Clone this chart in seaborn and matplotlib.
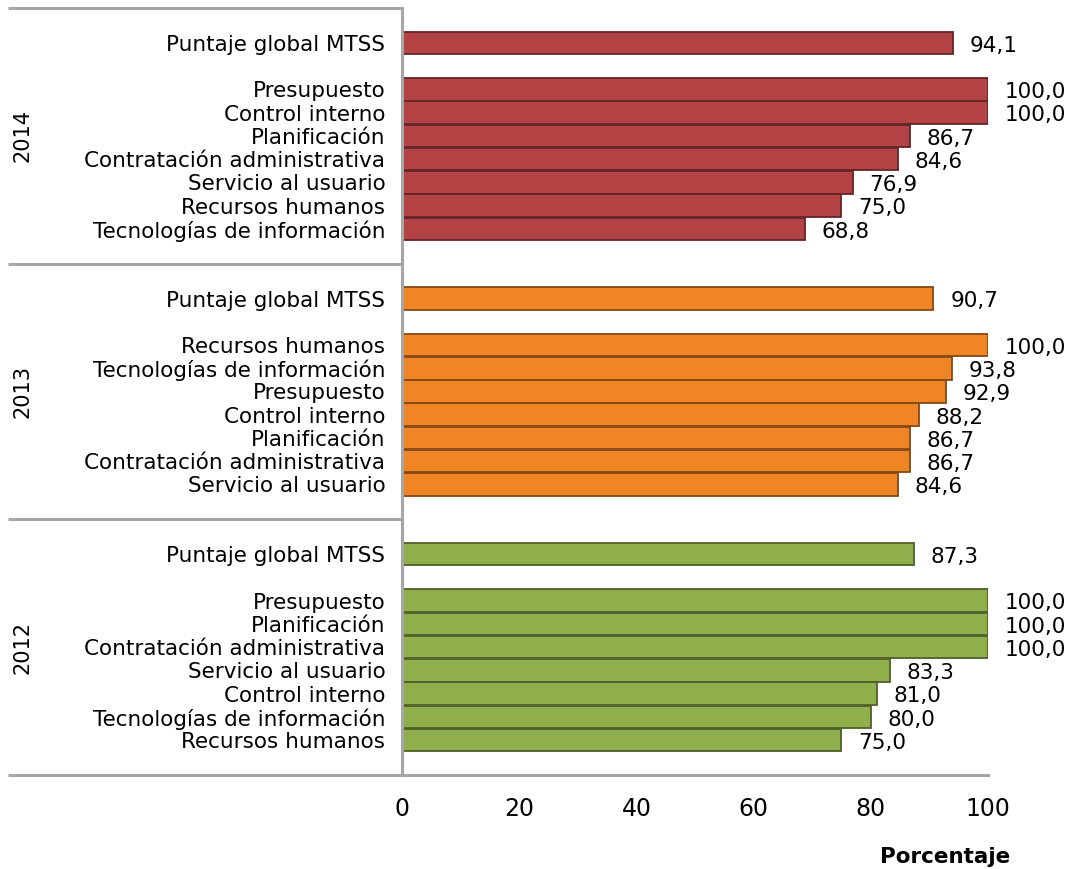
"""
Puntajes por área del MTSS, 2012-2014
"""
import pandas as pd
import matplotlib
matplotlib.use("Agg")
import matplotlib.pyplot as plt
import matplotlib.colors as mcolors
import seaborn as sns

# datos
anios = ['2014', '2013', '2012']
global_mtss = [94.1, 90.7, 87.3]

areas_2014 = ['Presupuesto', 'Control interno', 'Planificación', 'Contratación administrativa',
              'Servicio al usuario', 'Recursos humanos', 'Tecnologías de información']
valores_2014 = [100.0, 100.0, 86.7, 84.6, 76.9, 75.0, 68.8]

areas_2013 = ['Recursos humanos', 'Tecnologías de información', 'Presupuesto', 'Control interno',
              'Planificación', 'Contratación administrativa', 'Servicio al usuario']
valores_2013 = [100.0, 93.8, 92.9, 88.2, 86.7, 86.7, 84.6]

areas_2012 = ['Presupuesto', 'Planificación', 'Contratación administrativa', 'Servicio al usuario',
              'Control interno', 'Tecnologías de información', 'Recursos humanos']
valores_2012 = [100.0, 100.0, 100.0, 83.3, 81.0, 80.0, 75.0]

colores = {'2014': '#B34345', '2013': '#F08526', '2012': '#8FAE4C'}
GRIS = '#A6A6A6'
SLOTS = 11  # filas por bloque de año


def build_frame():
    rows = []
    bloques = [(areas_2014, valores_2014), (areas_2013, valores_2013), (areas_2012, valores_2012)]
    for g, (anio, (areas, vals)) in enumerate(zip(anios, bloques)):
        base = g * SLOTS
        rows.append({'anio': anio, 'area': 'Puntaje global MTSS', 'valor': global_mtss[g], 'pos': base + 1})
        for i, (a, v) in enumerate(zip(areas, vals)):
            rows.append({'anio': anio, 'area': a, 'valor': v, 'pos': base + 3 + i})
    return pd.DataFrame(rows)


def plot_puntajes(df):
    sns.set_style("white")
    plt.rcParams['font.family'] = ['DejaVu Sans']
    plt.rcParams['text.color'] = 'black'
    plt.rcParams['xtick.labelcolor'] = 'black'
    plt.rcParams['ytick.labelcolor'] = 'black'
    fig = plt.figure(figsize=(10.72, 8.69), dpi=100)
    ax = fig.add_axes([0.375, 0.1082, 0.5466, 0.8826])

    sns.barplot(data=df, x='valor', y='pos', hue='anio', palette=colores, orient='y',
                native_scale=True, dodge=False, width=0.97, saturation=1, errorbar=None,
                legend=False, ax=ax)

    # borde oscuro en cada barra
    for p in ax.patches:
        fc = mcolors.to_rgb(p.get_facecolor())
        p.set_edgecolor(tuple(c * 0.55 for c in fc))
        p.set_linewidth(1.3)

    ax.set_xlim(0, 100)
    ax.set_ylim(len(anios) * SLOTS - 0.5, -0.5)
    ax.set_xticks(range(0, 101, 20))
    ax.set_yticks(df['pos'])
    ax.set_yticklabels(df['area'], fontsize=15.5)
    ax.set_xlabel('')
    ax.set_ylabel('')
    ax.tick_params(axis='x', labelsize=17, length=8, width=2, color=GRIS, direction='out', pad=8)
    ax.tick_params(axis='y', length=0, pad=12)

    for side in ['top', 'right']:
        ax.spines[side].set_visible(False)
    for side in ['left', 'bottom']:
        ax.spines[side].set_color(GRIS)
        ax.spines[side].set_linewidth(2.2)

    # etiquetas de valor
    for _, r in df.iterrows():
        ax.annotate(f"{r['valor']:.1f}".replace('.', ','), (r['valor'], r['pos']),
                    xytext=(12, -2), textcoords='offset points', va='center', ha='left',
                    fontsize=15.5)

    # separadores de bloque y etiqueta de año
    trans = ax.get_yaxis_transform()
    x_izq = -0.672
    for g in range(len(anios) + 1):
        ax.plot([x_izq, 0], [g * SLOTS - 0.5] * 2, transform=trans, color=GRIS,
                lw=2.2, clip_on=False, solid_capstyle='butt')
    for g, anio in enumerate(anios):
        ax.text(-0.648, g * SLOTS + 5, anio, transform=trans, rotation=90,
                ha='center', va='center', fontsize=15)

    fig.text(0.882, 0.0138, 'Porcentaje', fontsize=15.5, fontweight='bold', ha='center', va='center')
    fig.savefig('out.png', dpi=100)


if __name__ == "__main__":
    df = build_frame()
    plot_puntajes(df)
